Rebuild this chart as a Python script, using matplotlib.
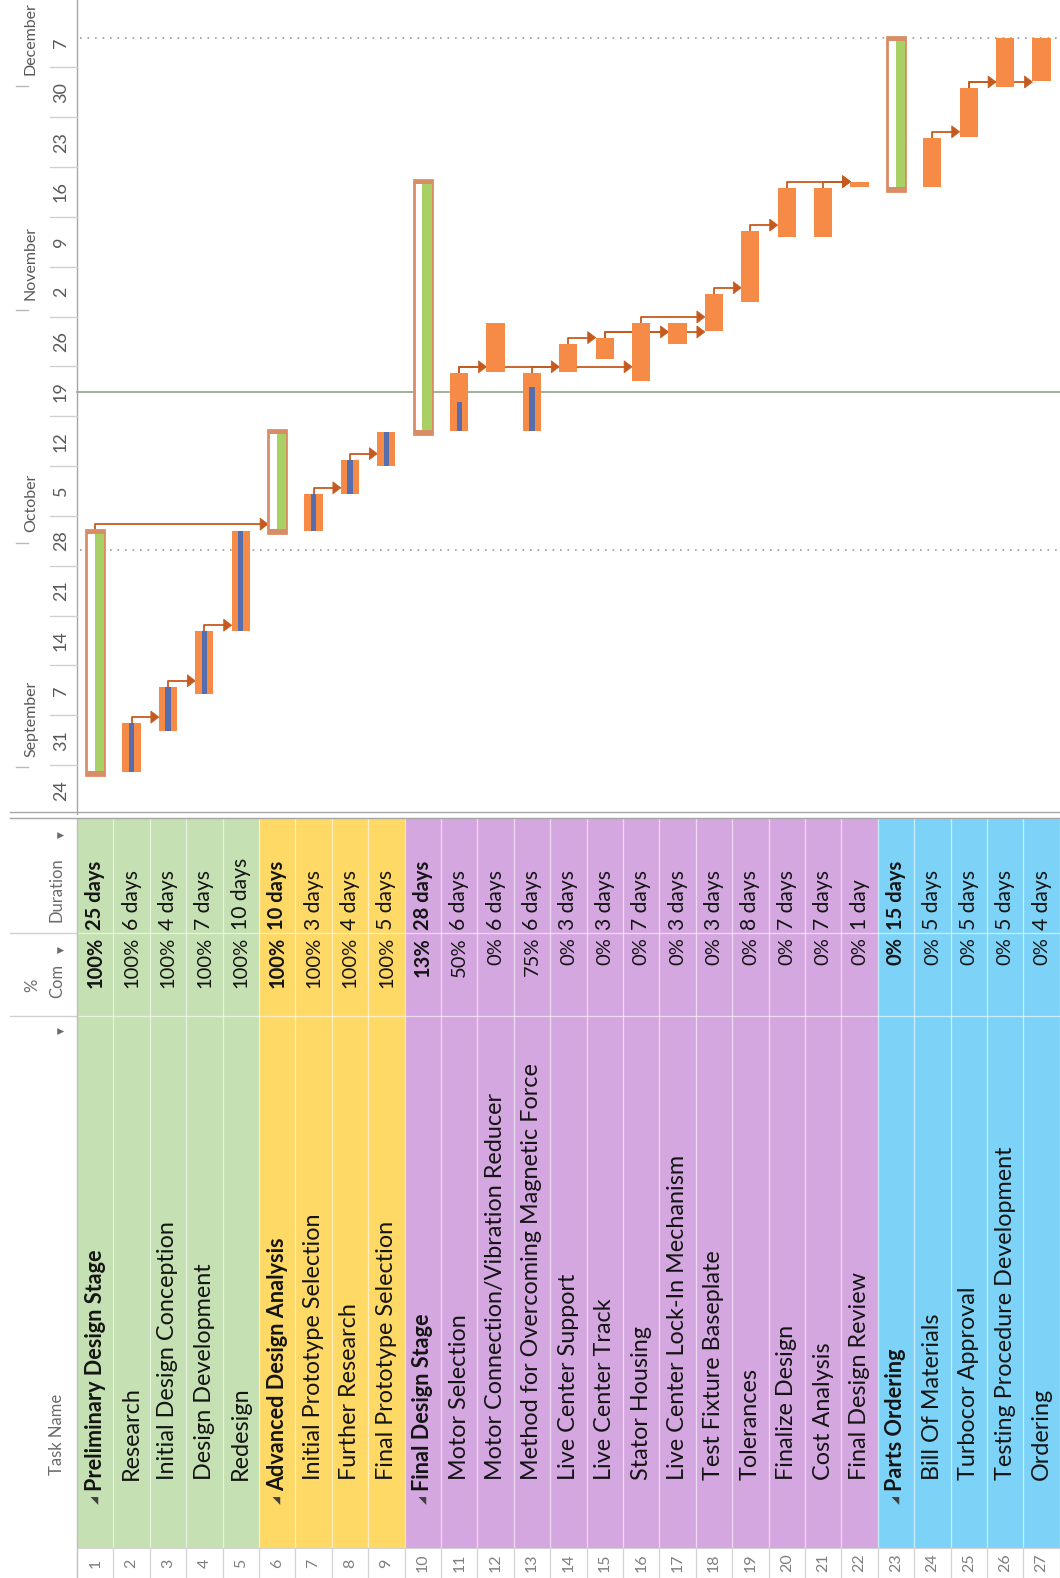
import matplotlib
matplotlib.use("agg")
import matplotlib.pyplot as plt
from matplotlib.patches import Rectangle, Polygon
from matplotlib.lines import Line2D

plt.rcParams["font.family"] = ["Lato", "DejaVu Sans"]

# ---- data -----------------------------------------------------------------
task_names = [
    "Preliminary Design Stage", "Research", "Initial Design Conception",
    "Design Development", "Redesign", "Advanced Design Analysis",
    "Initial Prototype Selection", "Further Research", "Final Prototype Selection",
    "Final Design Stage", "Motor Selection", "Motor Connection/Vibration Reducer",
    "Method for Overcoming Magnetic Force", "Live Center Support", "Live Center Track",
    "Stator Housing", "Live Center Lock-In Mechanism", "Test Fixture Baseplate",
    "Tolerances", "Finalize Design", "Cost Analysis", "Final Design Review",
    "Parts Ordering", "Bill Of Materials", "Turbocor Approval",
    "Testing Procedure Development", "Ordering",
]
summary_rows = [1, 6, 10, 23]
pct_complete = [100, 100, 100, 100, 100, 100, 100, 100, 100, 13, 50, 0, 75, 0,
                0, 0, 0, 0, 0, 0, 0, 0, 0, 0, 0, 0, 0]
durations = ["25 days", "6 days", "4 days", "7 days", "10 days", "10 days",
             "3 days", "4 days", "5 days", "28 days", "6 days", "6 days", "6 days",
             "3 days", "3 days", "7 days", "3 days", "3 days", "8 days", "7 days",
             "7 days", "1 day", "15 days", "5 days", "5 days", "5 days", "4 days"]
# bar start / finish in days counted from Sunday Aug 24
start_day = [5.6, 6.0, 11.8, 17.0, 25.8, 39.6, 39.9, 45.1, 49.0, 53.5, 53.9, 62.2,
             53.9, 62.2, 64.0, 61.0, 66.2, 68.0, 72.1, 81.2, 81.2, 88.2, 87.6, 88.2,
             95.2, 102.2, 103.1]
finish_day = [40.0, 12.9, 18.0, 25.8, 39.9, 54.1, 45.1, 49.9, 53.8, 89.2, 62.1, 69.1,
              62.1, 66.2, 67.0, 69.1, 69.1, 73.2, 82.0, 88.1, 88.1, 88.9, 109.3, 95.1,
              102.1, 109.1, 109.1]
links = [(1, 6), (2, 3), (3, 4), (4, 5), (7, 8), (8, 9), (11, 12), (11, 16), (13, 14),
         (14, 15), (15, 17), (15, 18), (16, 18), (18, 19), (19, 20), (20, 22), (21, 22),
         (24, 25), (25, 26), (25, 27)]
phase_first_row = [1, 6, 10, 23]
phase_last_row = [5, 9, 22, 27]
phase_colors = ["#C5E0B3", "#FFD966", "#D4A7E0", "#7DD3F7"]

week_labels = ["24", "31", "7", "14", "21", "28", "5", "12", "19", "26", "2", "9",
               "16", "23", "30", "7"]
month_names = ["September", "October", "November", "December"]
month_tick_day = [6.7, 38.2, 70.9, 102.4]
status_day = 59.4
dotted_days = [37.2, 109.1]

# ---- layout (pixels of the 1060x1578 picture) -------------------------------
W, H = 1060, 1578
GRID_LEFT = 77
ROW_PX = 36.4
CHART_BOTTOM = 815
DAY_PX = 7.12
TABLE_TOP = 819
NUM_TOP = 1548

ORANGE = "#F68A47"
BLUE = "#566DAE"
GREEN = "#A9D064"
SUM_EDGE = "#D98D66"
LINK = "#C65A1E"
GRAY_TXT = "#6B6B6B"
TXT = "#141414"


def px2x(px):
    return 0.5 + (px - GRID_LEFT) / ROW_PX


x_lo, x_hi = px2x(0), px2x(W)

fig = plt.figure(figsize=(W / 100, H / 100), dpi=100)

# ---- gantt chart --------------------------------------------------------------
ax = fig.add_axes([0, 1 - CHART_BOTTOM / H, 1, CHART_BOTTOM / H])
ax.set_xlim(x_lo, x_hi)
ax.set_ylim(0, CHART_BOTTOM / DAY_PX)
ax.axis("off")

# timescale
ax.plot([px2x(GRID_LEFT)] * 2, [0, CHART_BOTTOM / DAY_PX], color="#A6A6A6", lw=1)
for w, lab in enumerate(week_labels):
    ax.text(px2x(61), 7 * w + 3.5, lab, rotation=90, ha="center", va="center",
            fontsize=13, color="#595959")
    if w > 0:
        ax.plot([px2x(50), px2x(GRID_LEFT)], [7 * w] * 2, color="#D0D0D0", lw=1)
for name, d in zip(month_names, month_tick_day):
    ax.plot([px2x(16), px2x(28)], [d, d], color="#B8B8B8", lw=1)
    ax.text(px2x(31), d + 1.5, name, rotation=90, ha="center", va="bottom",
            fontsize=11.5, color="#595959")

# status and dotted lines
ax.plot([px2x(GRID_LEFT), x_hi], [status_day] * 2, color="#94AE8E", lw=1.3)
for d in dotted_days:
    ax.plot([px2x(80), x_hi], [d, d], color="#9A9A9A", lw=1.2, ls=(0, (1, 3.5)))

# links (under the bars)
HEAD_L, HEAD_H, RISE = 0.22, 0.85, 0.85
for p, q in links:
    yf = finish_day[p - 1]
    yl = yf + RISE
    xq = q - 0.25
    ax.plot([p, p, xq - HEAD_L], [yf, yl, yl], color=LINK, lw=1.3, zorder=2,
            solid_joinstyle="round")
    ax.add_patch(Polygon([[xq, yl], [xq - HEAD_L, yl + HEAD_H], [xq - HEAD_L, yl - HEAD_H]],
                         closed=True, fc=LINK, ec=LINK, lw=0.5, zorder=2))

# bars
CAP = 0.6
for i in range(len(task_names)):
    r = i + 1
    s, f = start_day[i], finish_day[i]
    if r in summary_rows:
        ax.add_patch(Rectangle((r - 0.25, s), 0.5, f - s, fc="white", ec=SUM_EDGE,
                               lw=2, zorder=3))
        ax.add_patch(Rectangle((r - 0.01, s), 0.25, f - s, fc=GREEN, ec="none", zorder=3))
        ax.add_patch(Rectangle((r - 0.25, s), 0.5, CAP, fc=SUM_EDGE, ec="none", zorder=4))
        ax.add_patch(Rectangle((r - 0.25, f - CAP), 0.5, CAP, fc=SUM_EDGE, ec="none", zorder=4))
    else:
        ax.add_patch(Rectangle((r - 0.25, s), 0.5, f - s, fc=ORANGE, ec="none", zorder=3))
        if pct_complete[i] > 0:
            ax.add_patch(Rectangle((r - 0.07, s), 0.14, (f - s) * pct_complete[i] / 100,
                                   fc=BLUE, ec="none", zorder=4))

# ---- task table -----------------------------------------------------------------
tb = fig.add_axes([0, 0, 1, (H - TABLE_TOP) / H])
tb.set_xlim(x_lo, x_hi)
tb.set_ylim(H, TABLE_TOP)
tb.axis("off")

for a, b, c in zip(phase_first_row, phase_last_row, phase_colors):
    tb.add_patch(Rectangle((a - 0.5, TABLE_TOP), b - a + 1, NUM_TOP - TABLE_TOP,
                           fc=c, ec="none"))
for k in range(1, 28):
    tb.plot([k + 0.5] * 2, [TABLE_TOP, NUM_TOP], color="white", lw=0.9, alpha=0.6)
    tb.plot([k + 0.5] * 2, [NUM_TOP, H], color="#D4D4D4", lw=0.9)
for yc in (933, 1016):
    tb.plot([0.5, x_hi], [yc, yc], color="white", lw=0.9, alpha=0.6)
    tb.plot([px2x(10), px2x(GRID_LEFT)], [yc, yc], color="#D0D0D0", lw=1)
tb.plot([0.5, x_hi], [NUM_TOP, NUM_TOP], color="#D4D4D4", lw=0.8)
tb.plot([px2x(GRID_LEFT)] * 2, [TABLE_TOP, H], color="#BFBFBF", lw=1)

for i, name in enumerate(task_names):
    r = i + 1
    bold = r in summary_rows
    fw = "bold" if bold else "normal"
    tb.text(r, 1563, str(r), rotation=90, ha="center", va="center", fontsize=11.5,
            color="#7F7F7F")
    if bold:
        tb.text(r, 1500, "\u25E2", rotation=90, ha="center", va="center", fontsize=7.5,
                color="#404040", family="DejaVu Sans")
        tb.text(r, 1491, name, rotation=90, ha="center", va="bottom", fontsize=15.6,
                fontweight=fw, color=TXT)
    else:
        tb.text(r, 1480, name, rotation=90, ha="center", va="bottom", fontsize=16.8,
                color=TXT)
    tb.text(r, 937, f"{pct_complete[i]}%", rotation=90, ha="center", va="top",
            fontsize=14.5, fontweight=fw, color=TXT)
    tb.text(r, 930, durations[i], rotation=90, ha="center", va="bottom",
            fontsize=14.5 if bold else 15.2, fontweight=fw, color=TXT)

# column headers
hx = px2x(57)
tb.text(hx, 1475, "Task Name", rotation=90, ha="center", va="bottom", fontsize=12,
        color=GRAY_TXT)
tb.text(px2x(61), 1031, "\u25BC", rotation=90, ha="center", va="center", fontsize=6.5,
        color=GRAY_TXT, family="DejaVu Sans")
tb.text(px2x(32), 985, "%", rotation=90, ha="center", va="center", fontsize=12,
        color=GRAY_TXT)
tb.text(hx, 998, "Com", rotation=90, ha="center", va="bottom", fontsize=12,
        color=GRAY_TXT)
tb.text(px2x(61), 950, "\u25BC", rotation=90, ha="center", va="center", fontsize=6.5,
        color=GRAY_TXT, family="DejaVu Sans")
tb.text(hx, 922, "Duration", rotation=90, ha="center", va="bottom", fontsize=12,
        color=GRAY_TXT)
tb.text(px2x(61), 835, "\u25BC", rotation=90, ha="center", va="center", fontsize=6.5,
        color=GRAY_TXT, family="DejaVu Sans")

# split between chart and table
for yy in (812, 818):
    fig.add_artist(Line2D([10 / W, 1], [1 - yy / H] * 2, color="#A6A6A6", lw=1))

fig.savefig("out.png", dpi=100)
